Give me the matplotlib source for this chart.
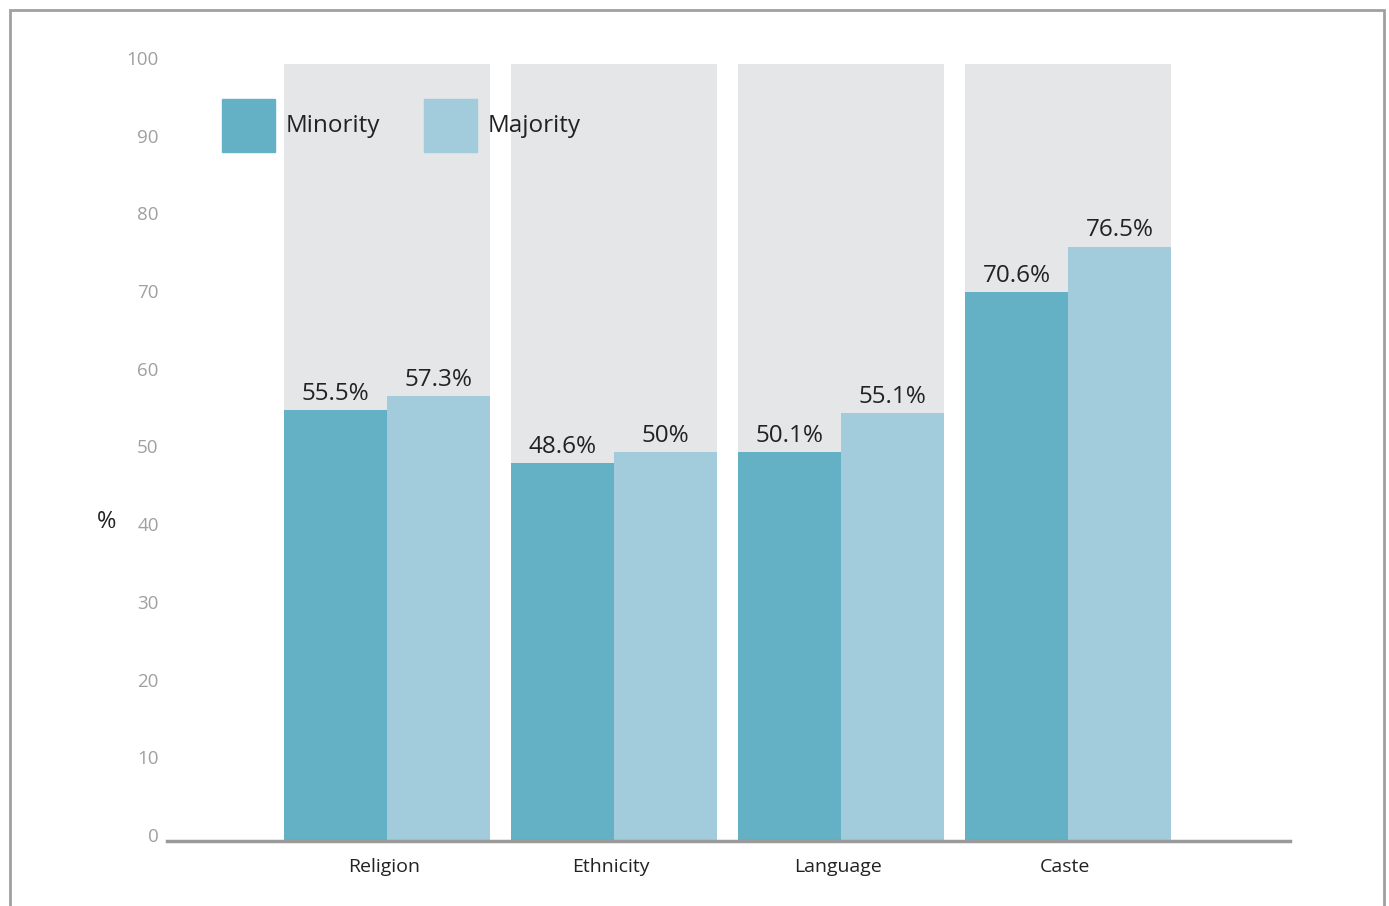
import matplotlib
matplotlib.use("Agg")
import matplotlib.pyplot as plt
import matplotlib.transforms as mtransforms
from matplotlib.patches import Rectangle
import numpy as np

categories = ["Religion", "Ethnicity", "Language", "Caste"]
minority = [55.5, 48.6, 50.1, 70.6]
majority = [57.3, 50.0, 55.1, 76.5]
minority_labels = ["55.5%", "48.6%", "50.1%", "70.6%"]
majority_labels = ["57.3%", "50%", "55.1%", "76.5%"]
yticks = [0, 10, 20, 30, 40, 50, 60, 70, 80, 90, 100]

C_MIN = "#64b0c4"
C_MAJ = "#a2cbdb"
C_BG = "#e5e6e8"
FONT = ["Open Sans", "DejaVu Sans"]
plt.rcParams["font.family"] = FONT

W, H = 1389, 906
fig = plt.figure(figsize=(W / 100, H / 100), dpi=100)

# figure frame
fig.patches.append(Rectangle((10 / W, -0.05), 1374 / W, (H - 10) / H + 0.05,
                             transform=fig.transFigure, fill=False,
                             edgecolor="#a0a0a0", linewidth=2))

ax = fig.add_axes([167 / W, 65 / H, (1290 - 167) / W, (841 - 64) / H])
x = np.arange(len(categories))
w = 103 / 227

ax.bar(x, [100] * len(x), width=2 * w, color=C_BG, zorder=0)
ax.bar(x - w / 2, minority, width=w, color=C_MIN, zorder=2)
ax.bar(x + w / 2, majority, width=w, color=C_MAJ, zorder=2)

for xi, v, lab in zip(x - w / 2, minority, minority_labels):
    ax.annotate(lab, (xi, v), xytext=(0, 3), textcoords="offset points",
                ha="center", va="bottom", fontsize=17.5, color="#222222")
for xi, v, lab in zip(x + w / 2, majority, majority_labels):
    ax.annotate(lab, (xi, v), xytext=(0, 3), textcoords="offset points",
                ha="center", va="bottom", fontsize=17.5, color="#222222")

ax.set_xlim((167 - 387) / 227, (1290 - 387) / 227)
ax.set_ylim(0, 100)
for s in ["top", "right", "left"]:
    ax.spines[s].set_visible(False)
ax.spines["bottom"].set_color("#9a9a9a")
ax.spines["bottom"].set_linewidth(2.5)
ax.spines["bottom"].set_zorder(3)

ax.set_xticks(x)
ax.set_xticklabels(categories, fontsize=14, color="#222222")
ax.tick_params(axis="x", length=0, pad=12)
xoff = mtransforms.ScaledTranslation(-3 / 100, 0, fig.dpi_scale_trans)
for lbl in ax.get_xticklabels():
    lbl.set_transform(lbl.get_transform() + xoff)
ax.set_yticks(yticks)
ax.set_yticklabels([str(t) for t in yticks], fontsize=13.5, color="#a0a0a0")
ax.tick_params(axis="y", length=0, pad=6)
offset = mtransforms.ScaledTranslation(0, 6 / 100, fig.dpi_scale_trans)
for lbl in ax.get_yticklabels():
    lbl.set_transform(lbl.get_transform() + offset)
    lbl.set_horizontalalignment("right")

fig.text(107 / W, 1 - 522 / H, "%", fontsize=17, color="#222222",
         ha="center", va="center")

# legend
fig.patches.append(Rectangle((222 / W, 1 - 152 / H), 53 / W, 53 / H,
                             transform=fig.transFigure, color=C_MIN, zorder=5))
fig.patches.append(Rectangle((424 / W, 1 - 152 / H), 53 / W, 53 / H,
                             transform=fig.transFigure, color=C_MAJ, zorder=5))
fig.text(286 / W, 1 - 126 / H, "Minority", fontsize=17.5, color="#222222",
         ha="left", va="center", zorder=6)
fig.text(488 / W, 1 - 126 / H, "Majority", fontsize=17.5, color="#222222",
         ha="left", va="center", zorder=6)

fig.savefig("out.png", dpi=100, facecolor="white")
